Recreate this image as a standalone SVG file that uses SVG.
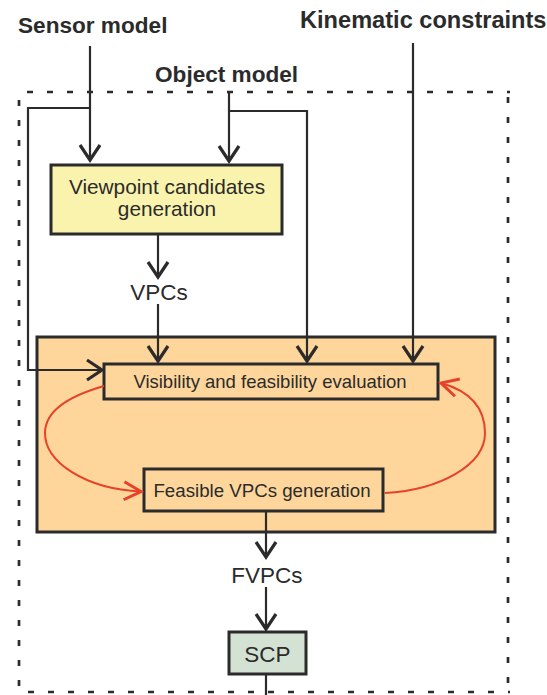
<svg xmlns="http://www.w3.org/2000/svg" width="547" height="695" viewBox="0 0 547 695">
<style>
.t{font-family:"Liberation Sans",Arial,sans-serif;fill:#2b2b2b}
.title{font-weight:bold;font-size:22.6px}
.lbl{font-size:18.5px;text-anchor:middle}
.big{font-size:22.5px;text-anchor:middle}
.box{stroke:#2b2b2b;stroke-width:3}
.dash{stroke:#2b2b2b;stroke-width:2.7;stroke-dasharray:6 14;fill:none}
.ln{stroke:#2b2b2b;stroke-width:2.2;fill:none}
.red{stroke:#e8412a;stroke-width:2;fill:none}
</style>
<defs>
<marker id="ah" markerUnits="userSpaceOnUse" markerWidth="30" markerHeight="30" viewBox="-20 -15 25 30" refX="0" refY="0" orient="auto">
<path d="M-15,-10 L0,0 L-15,10" fill="none" stroke="#2b2b2b" stroke-width="3.2"/>
</marker>
<marker id="ahr" markerUnits="userSpaceOnUse" markerWidth="30" markerHeight="30" viewBox="-20 -15 25 30" refX="0" refY="0" orient="auto">
<path d="M-17,-9 L0,0 L-17,9" fill="none" stroke="#e8412a" stroke-width="3"/>
</marker>
</defs>
<rect width="547" height="695" fill="#fff"/>

<g id="titles">
<text class="t title" x="18" y="33">Sensor model</text>
<text class="t title" x="155" y="82">Object model</text>
<text class="t title" x="300" y="28" style="font-size:23.6px">Kinematic constraints</text>
</g>

<g id="boundary">
<line class="dash" x1="27" y1="92" x2="510" y2="92"/>
<line class="dash" x1="508" y1="97" x2="508" y2="695"/>
<line class="dash" x1="19" y1="100" x2="19" y2="695"/>
<line class="dash" x1="28" y1="692" x2="510" y2="692"/>
</g>

<g id="evaluation-loop">
<rect class="box" x="37" y="337" width="458" height="195" fill="#fed69b"/>
</g>

<g id="viewpoint-candidates">
<rect class="box" x="51" y="165" width="231" height="69" fill="#faf3ae"/>
<text class="t lbl" x="167" y="194" style="font-size:20.8px">Viewpoint candidates</text>
<text class="t lbl" x="167" y="216" style="font-size:20.8px">generation</text>
</g>

<g id="vpcs">
<text class="t big" x="159" y="300">VPCs</text>
</g>

<g id="visibility">
<rect class="box" x="104" y="364" width="334" height="35" fill="#fed69b"/>
<text class="t lbl" x="270" y="388">Visibility and feasibility evaluation</text>
</g>

<g id="feasible">
<rect class="box" x="144" y="469" width="239" height="42" fill="#fed69b"/>
<text class="t lbl" x="262" y="497" style="font-size:18.7px">Feasible VPCs generation</text>
</g>

<g id="fvpcs">
<text class="t big" x="267" y="583">FVPCs</text>
</g>

<g id="scp">
<rect class="box" x="229" y="632" width="77" height="42" fill="#d3e2d2"/>
<text class="t big" x="267.5" y="662">SCP</text>
</g>

<g id="connectors">
<path class="ln" d="M90,46 V160" marker-end="url(#ah)"/>
<path class="ln" d="M90,108 H28 V370 H102" marker-end="url(#ah)"/>
<path class="ln" d="M229,93 V161" marker-end="url(#ah)"/>
<path class="ln" d="M229,111 H307 V361" marker-end="url(#ah)"/>
<path class="ln" d="M413,43 V361" marker-end="url(#ah)"/>
<path class="ln" d="M158,234 V277" marker-end="url(#ah)"/>
<path class="ln" d="M158,304 V361" marker-end="url(#ah)"/>
<path class="ln" d="M266,511 V557" marker-end="url(#ah)"/>
<path class="ln" d="M266,587 V629" marker-end="url(#ah)"/>
<path class="ln" d="M266,674 V695"/>
<path class="red" d="M104,386 C62,398 45,415 45,433 C45,462 85,489 141,491.5" marker-end="url(#ahr)"/>
<path class="red" d="M385,493 C440,490 485,465 485,433 C485,405 466,390 441,383" marker-end="url(#ahr)"/>
</g>
</svg>
